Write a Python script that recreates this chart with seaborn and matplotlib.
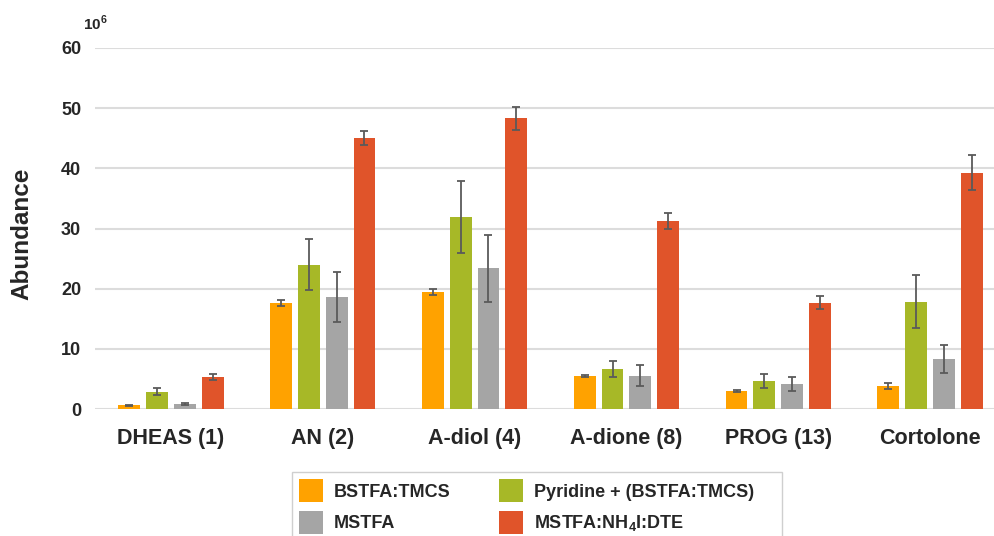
import numpy as np
import pandas as pd
import matplotlib
matplotlib.use("Agg")
import matplotlib.pyplot as plt
import seaborn as sns
from matplotlib.patches import Rectangle

compounds = ["DHEAS (1)", "AN (2)", "A-diol (4)", "A-dione (8)", "PROG (13)", "Cortolone"]
reagents = ["BSTFA:TMCS", "Pyridine + (BSTFA:TMCS)", "MSTFA", r"MSTFA:NH$_\mathbf{4}$I:DTE"]

# abundance x 10^6, with error bar half-widths
bstfa = [0.6, 17.6, 19.5, 5.5, 3.05, 3.85]
bstfa_err = [0.1, 0.45, 0.5, 0.15, 0.15, 0.45]
pyridine = [2.9, 24.0, 31.9, 6.6, 4.7, 17.8]
pyridine_err = [0.53, 4.3, 6.0, 1.35, 1.15, 4.4]
mstfa = [0.9, 18.6, 23.4, 5.55, 4.15, 8.3]
mstfa_err = [0.17, 4.15, 5.55, 1.8, 1.2, 2.35]
nh4i = [5.35, 45.0, 48.3, 31.2, 17.7, 39.3]
nh4i_err = [0.55, 1.2, 1.9, 1.3, 1.15, 2.9]

colors = ["#FFA200", "#A7B827", "#A5A5A5", "#E0542A"]

values = [bstfa, pyridine, mstfa, nh4i]
errors = [bstfa_err, pyridine_err, mstfa_err, nh4i_err]

df = pd.DataFrame({
    "compound": np.tile(compounds, len(reagents)),
    "reagent": np.repeat(reagents, len(compounds)),
    "abundance": np.concatenate(values),
})

sns.set_style("white")
plt.rcParams["font.family"] = ["Liberation Sans", "DejaVu Sans"]
plt.rcParams["font.weight"] = "bold"
plt.rcParams["mathtext.fontset"] = "custom"
plt.rcParams["mathtext.bf"] = "Liberation Sans:bold"
plt.rcParams["mathtext.rm"] = "Liberation Sans:bold"

fig = plt.figure(figsize=(9.95, 5.36), dpi=100)
ax = fig.add_axes([95 / 995, 127 / 536, 911 / 995, 361 / 536])

sns.barplot(
    data=df, x="compound", y="abundance", hue="reagent",
    order=compounds, hue_order=reagents, palette=colors,
    width=0.733, gap=0.22, errorbar=None, saturation=1,
    linewidth=0, ax=ax, legend=True,
)

for container, err in zip(ax.containers, errors):
    xs = [p.get_x() + p.get_width() / 2 for p in container.patches]
    ys = [p.get_height() for p in container.patches]
    ax.errorbar(xs, ys, yerr=err, fmt="none", ecolor="#5a5a5a",
                elinewidth=1.3, capsize=2.6, capthick=1.3, zorder=5)

ax.set_xlim(-0.5, 5.5)
ax.set_ylim(0, 60)
ax.set_yticks(range(0, 61, 10))
ax.yaxis.grid(True, color="#dcdcdc", linewidth=1.5)
ax.set_axisbelow(True)
for s in ax.spines.values():
    s.set_visible(False)
ax.tick_params(axis="y", length=0, pad=10, labelsize=13)
ax.tick_params(axis="x", length=0, pad=14, labelsize=15.5)
for lbl in ax.get_xticklabels() + ax.get_yticklabels():
    lbl.set_fontweight("bold")
ax.set_xlabel("")
ax.set_ylabel("")

fig.text(22 / 995, 1 - 234 / 536, "Abundance", rotation=90, ha="center",
         va="center", fontsize=17.5, fontweight="bold")
fig.text(83 / 995, 1 - 30 / 536, r"10$^\mathbf{6}$", ha="left", va="baseline",
         fontsize=11, fontweight="bold")

handles, labels = ax.get_legend_handles_labels()
ax.get_legend().remove()
order = [0, 2, 1, 3]
leg = fig.legend(
    [handles[i] for i in order], [labels[i] for i in order],
    ncol=2, loc="upper left", bbox_to_anchor=(292 / 995, 1 - 472 / 536),
    frameon=False, prop={"weight": "bold", "size": 13},
    handlelength=1.33, handleheight=1.59, handletextpad=0.61,
    columnspacing=2.68, labelspacing=0.48, borderpad=0.39, borderaxespad=0,
)
# legend frame (wider than the entries, as in the source figure)
fig.patches.append(Rectangle((292 / 995, -0.05), 490 / 995, 0.05 + 64 / 536,
                             transform=fig.transFigure, fill=False,
                             edgecolor="#cfcfcf", linewidth=1.0))

fig.savefig("out.png", dpi=100)
